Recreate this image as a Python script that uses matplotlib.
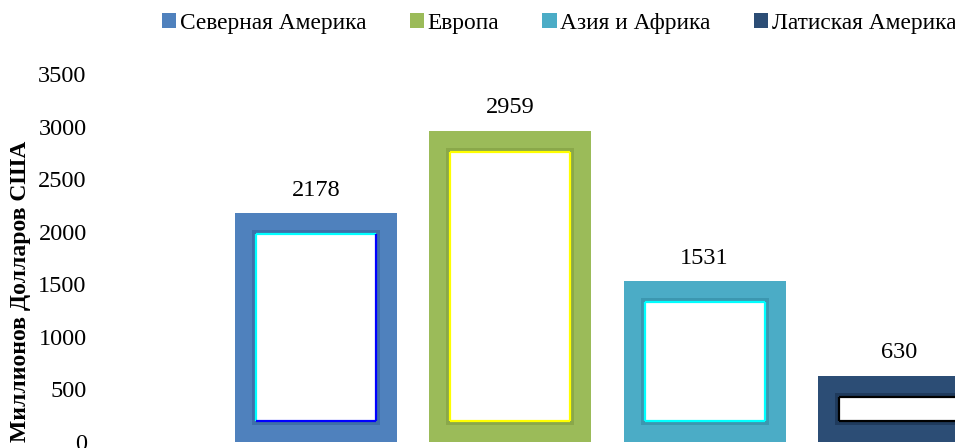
import matplotlib
matplotlib.use("Agg")
import matplotlib.pyplot as plt
from matplotlib.patches import Patch

categories = ["Северная Америка", "Европа", "Азия и Африка", "Латиская Америка"]
values = [2178, 2959, 1531, 630]
colors = ["#4F81BD", "#9BBB59", "#4BACC6", "#2C4D75"]
shade = ["#3F6FA8", "#8AA84A", "#3C97B0", "#1F3A5C"]
light_edge = ["#00FFFF", "#FFFF00", "#00FFFF", "#000000"]
dark_edge = ["#0000FF", "#FFFF00", "#00FFFF", "#000000"]
yticks = [0, 500, 1000, 1500, 2000, 2500, 3000, 3500]
ylabel = "Миллионов Долларов США"

W, H = 955, 448
fig = plt.figure(figsize=(W / 100, H / 100), dpi=100)
plt.rcParams['font.family'] = ['Liberation Serif', 'DejaVu Serif']
FS = 17.5
LFS = 16.8

ax_l, ax_b, ax_w, ax_h = 120, 6, 835, 368
ax = fig.add_axes([ax_l / W, ax_b / H, ax_w / W, ax_h / H])
xlim = (-1.008, 3.288)
ylim = (0, 3500)
ax.set_xlim(*xlim)
ax.set_ylim(*ylim)
for s in ax.spines.values():
    s.set_visible(False)
ax.set_xticks([])
ax.set_yticks(yticks)
ax.tick_params(axis='y', length=0, pad=24, labelsize=FS)

px_x = (xlim[1] - xlim[0]) / ax_w
px_y = (ylim[1] - ylim[0]) / ax_h
border = 21
dx = border * px_x
dy = border * px_y
width = 162 * px_x

xs = list(range(len(values)))
for i, v in enumerate(values):
    x = xs[i]
    ax.bar(x, v, width=width, color=colors[i], zorder=2)
    s = 4
    ax.bar(x, v - 2 * dy + 2 * s * px_y, bottom=dy - s * px_y,
           width=width - 2 * dx + 2 * s * px_x, color=shade[i], zorder=2.5)
    ax.bar(x, v - 2 * dy, bottom=dy, width=width - 2 * dx, color="white", zorder=3)
    l = x - width / 2 + dx
    r = x + width / 2 - dx
    b = dy
    t = v - dy
    lw = 1.6
    ax.plot([l, l], [b, t], color=light_edge[i], lw=lw, zorder=4, solid_capstyle='butt')
    ax.plot([l, r], [t, t], color=light_edge[i], lw=lw, zorder=4, solid_capstyle='butt')
    ax.plot([r, r], [b, t], color=dark_edge[i], lw=lw, zorder=4, solid_capstyle='butt')
    ax.plot([l, r], [b, b], color=dark_edge[i], lw=lw, zorder=4, solid_capstyle='butt')
    ax.annotate(str(v), xy=(x, v), xytext=(0, 16.5), textcoords='offset points',
                ha='center', va='center', fontsize=FS, color='black')

fig.text(21 / W, 1 - 291 / H, ylabel, rotation=90, ha='center', va='center',
         fontsize=17, fontweight='bold')

handles = [Patch(facecolor=c, edgecolor='none') for c in colors]
fig.legend(handles, categories, loc='center left', bbox_to_anchor=(162 / W, 1 - 23 / H),
           ncol=4, frameon=False, fontsize=LFS, handlelength=0.62, handleheight=0.62,
           handletextpad=0.15, columnspacing=1.85, borderpad=0, borderaxespad=0)

fig.savefig("out.png", dpi=100)
